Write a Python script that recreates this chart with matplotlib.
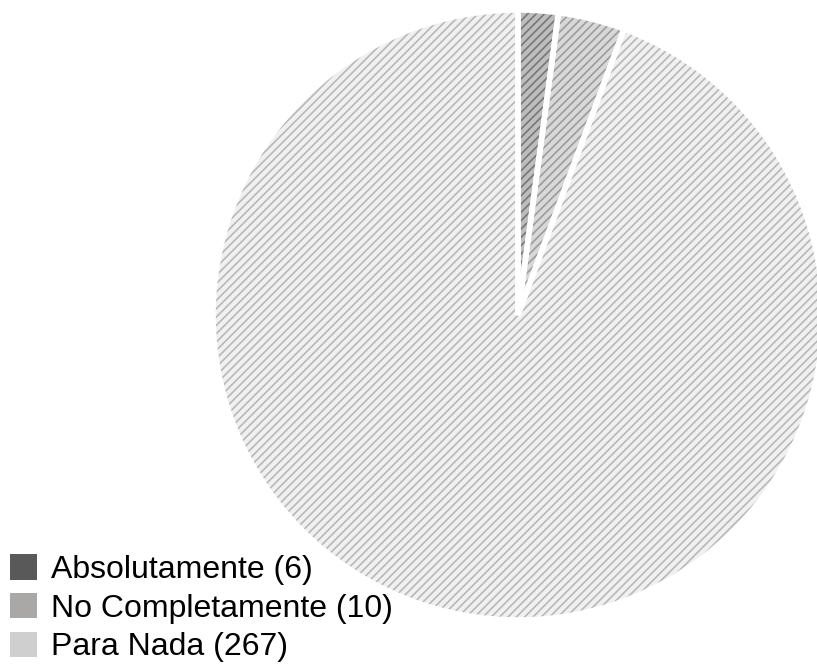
import matplotlib.pyplot as plt
from matplotlib.patches import Patch

plt.rcParams['font.family'] = ['Liberation Sans', 'DejaVu Sans']
plt.rcParams['hatch.linewidth'] = 1.2

categorias = ["Absolutamente", "No Completamente", "Para Nada"]
valores = [6, 10, 267]
colores_fondo = ["#bdbdbd", "#d8d8d8", "#f0f0f0"]
colores_rayas = ["#777777", "#9c9c9c", "#b8b8b8"]
colores_leyenda = ["#595959", "#aaa7a7", "#d0cfd0"]

fig = plt.figure(figsize=(8.17, 6.72), dpi=100)
ax = fig.add_axes([(518 - 305) / 817, (672 - 315 - 305) / 672, 610 / 817, 610 / 672])

# relleno con rayas
cunas, _ = ax.pie(valores, startangle=90, counterclock=False,
                  colors=colores_fondo, radius=1,
                  wedgeprops=dict(linewidth=0))
for c, col in zip(cunas, colores_rayas):
    c.set_hatch("////")
    c.set_edgecolor(col)
    c.set_linewidth(0)

# separaciones blancas
ax.pie(valores, startangle=90, counterclock=False, radius=1,
       wedgeprops=dict(facecolor="none", edgecolor="white", linewidth=4))

ax.set_xlim(-1, 1)
ax.set_ylim(-1, 1)
ax.set_aspect("equal")
ax.axis("off")

etiquetas = [f"{c} ({v})" for c, v in zip(categorias, valores)]
manijas = [Patch(facecolor=c, edgecolor="none") for c in colores_leyenda]
fig.legend(manijas, etiquetas, loc="lower left", bbox_to_anchor=(0.0, 0.0),
           frameon=False, fontsize=23, handlelength=0.85, handleheight=0.85,
           handletextpad=0.45, labelspacing=0.25, borderaxespad=0.0,
           borderpad=0.3)

plt.savefig("out.png", dpi=100)
plt.close()
